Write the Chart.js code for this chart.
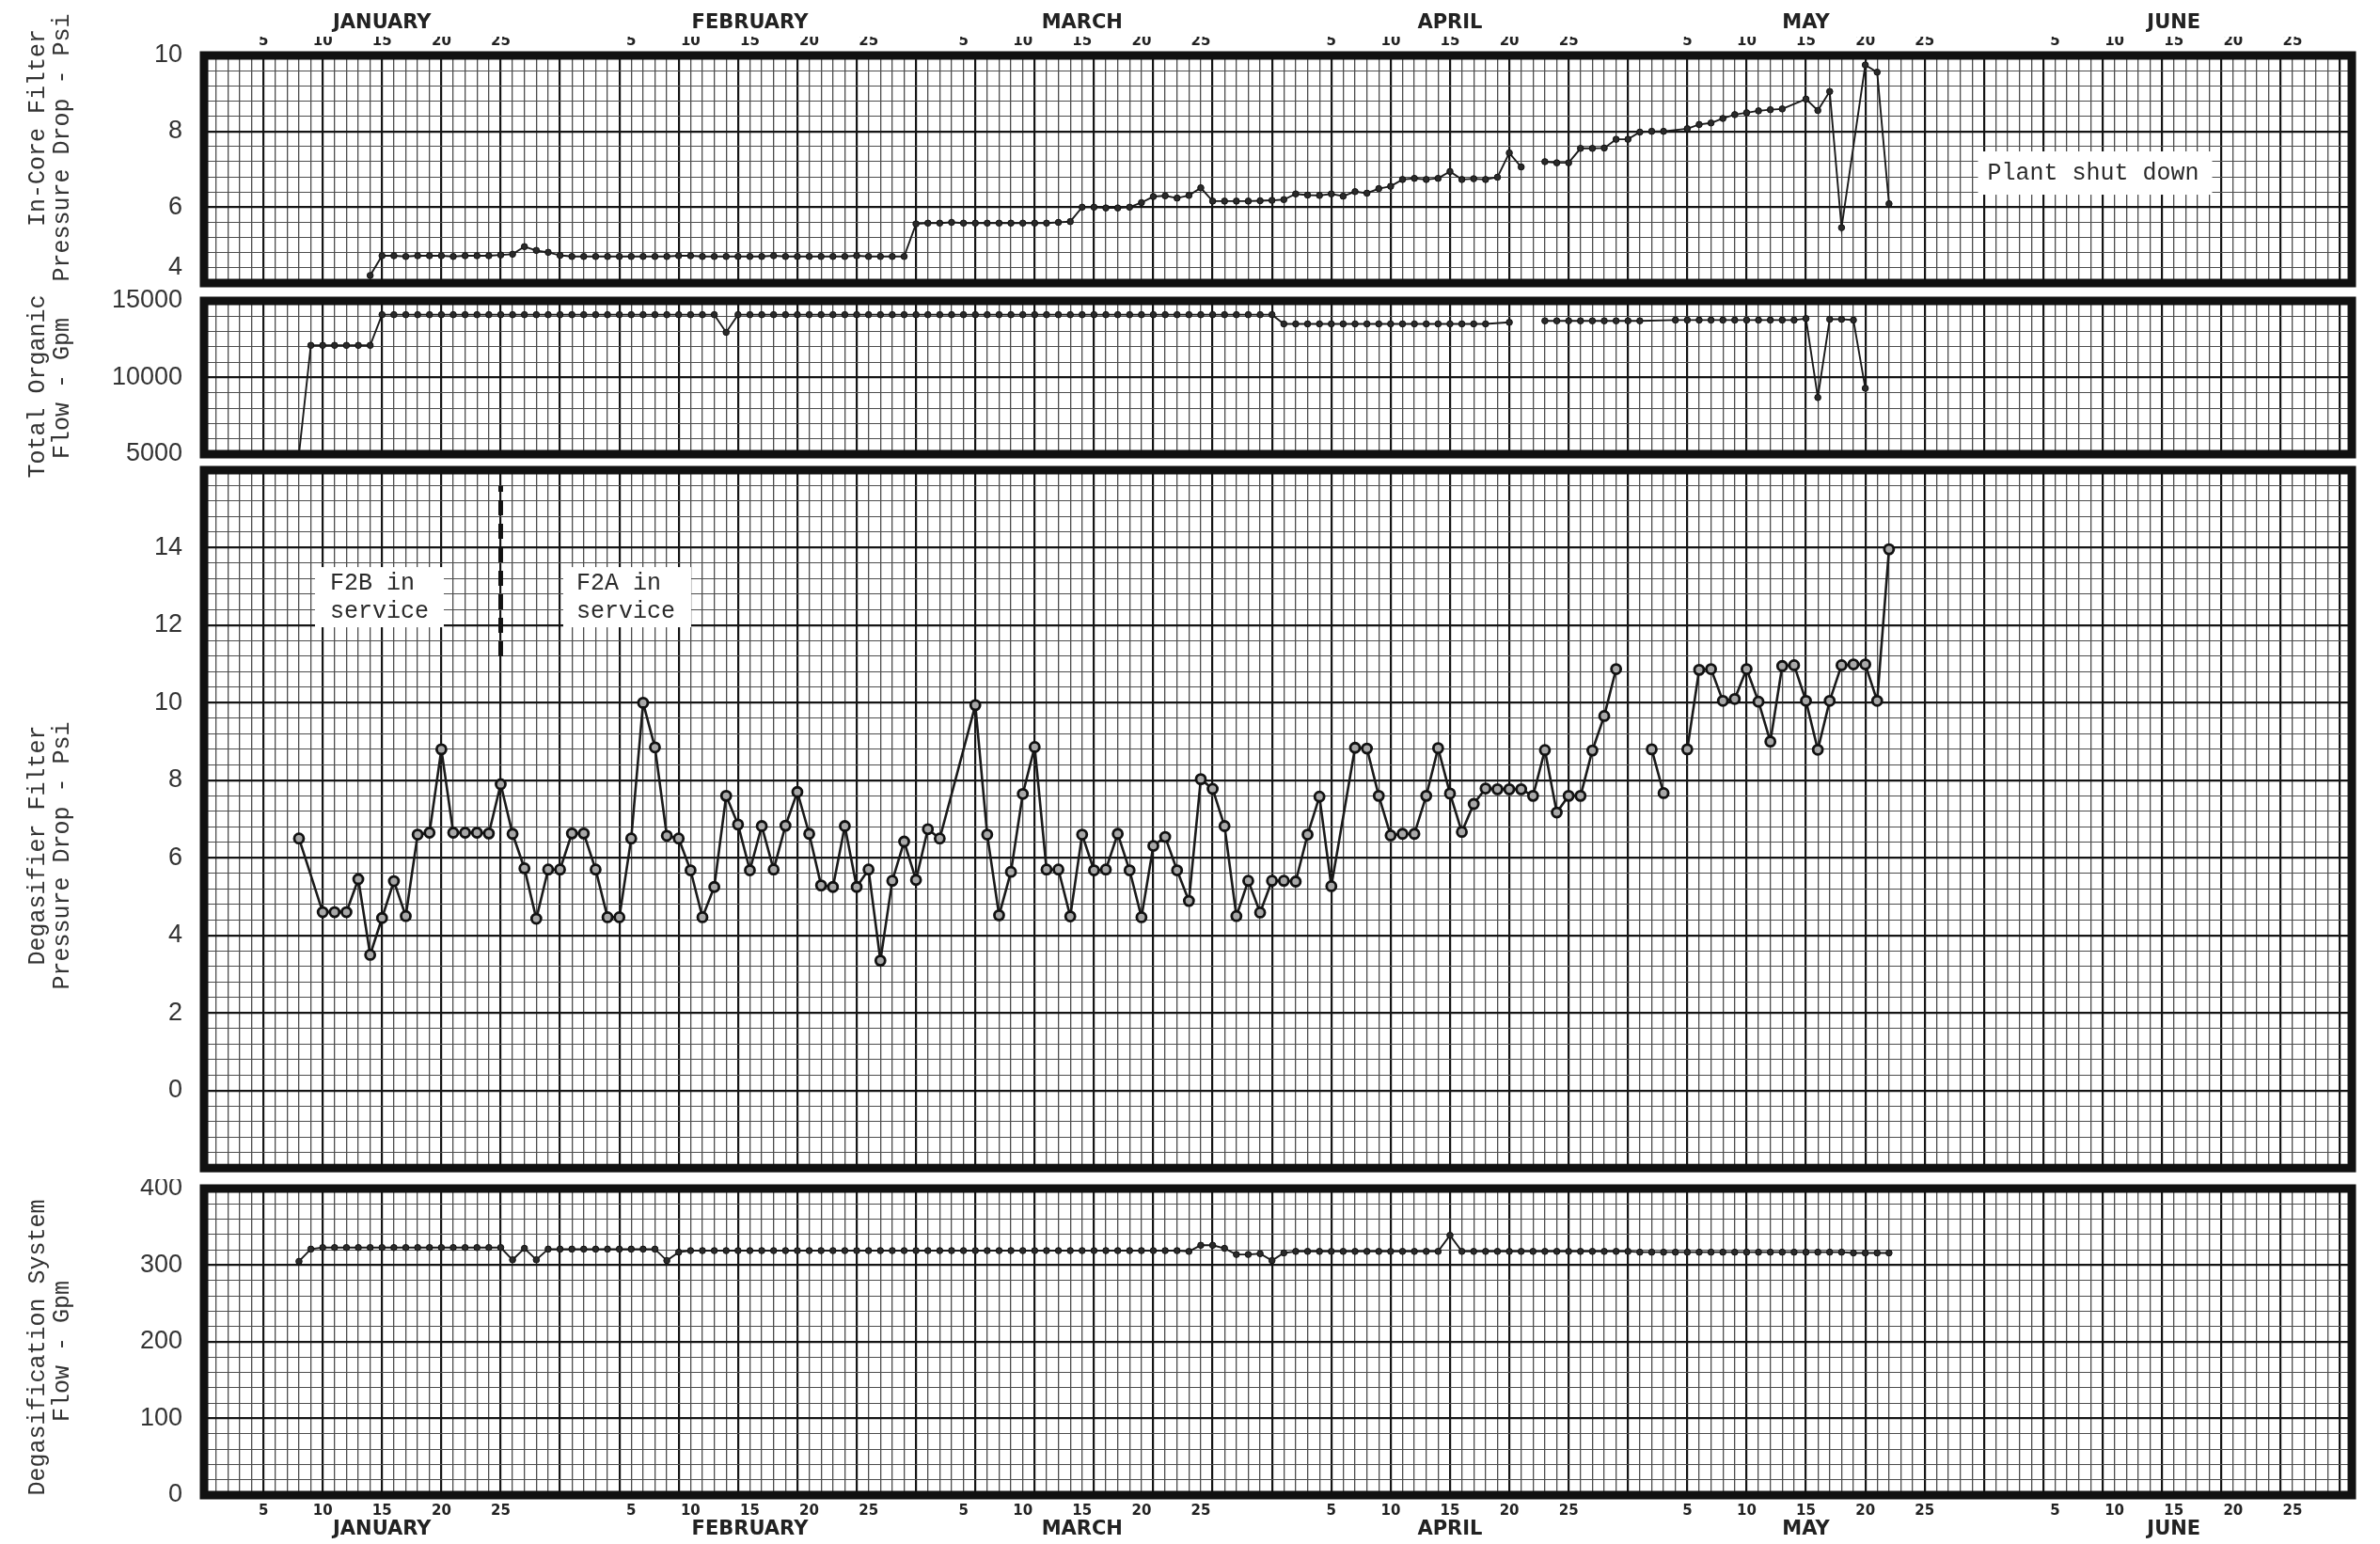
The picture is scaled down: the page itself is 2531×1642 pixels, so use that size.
<!DOCTYPE html>
<html>
<head>
<meta charset="utf-8">
<script src="https://cdn.jsdelivr.net/npm/chart.js@4.4.1/dist/chart.umd.min.js"></script>
<style>
  html, body { margin: 0; padding: 0; background: #fff; }
  #sheet { position: relative; width: 2531px; height: 1642px; overflow: hidden; background: #fff; }
  #sheet canvas { position: absolute; left: 0; }
  .ytitle {
    position: absolute;
    font-family: 'Liberation Mono', 'DejaVu Sans Mono', monospace;
    font-size: 25px;
    color: #333;
    white-space: nowrap;
    transform: translate(-50%, -50%) rotate(-90deg);
  }
</style>
</head>
<body>
<div id="sheet">
  <canvas id="incore" width="2531" height="310" style="top:0px"></canvas>
  <canvas id="organic" width="2531" height="200" style="top:300px"></canvas>
  <canvas id="degasPsi" width="2531" height="760" style="top:490px"></canvas>
  <canvas id="degasFlow" width="2531" height="388" style="top:1254px"></canvas>

  <div class="ytitle" style="left:40px;top:136px">In-Core Filter</div>
  <div class="ytitle" style="left:66px;top:157px">Pressure Drop - Psi</div>
  <div class="ytitle" style="left:40px;top:411px">Total Organic</div>
  <div class="ytitle" style="left:66px;top:413px">Flow - Gpm</div>
  <div class="ytitle" style="left:40px;top:899px">Degasifier Filter</div>
  <div class="ytitle" style="left:66px;top:910px">Pressure Drop - Psi</div>
  <div class="ytitle" style="left:40px;top:1433px">Degasification System</div>
  <div class="ytitle" style="left:66px;top:1437px">Flow - Gpm</div>
</div>
<script>
// calendar: day 1 = Jan 1, axis runs Jan 1 .. Jun 30
const monthNames = ['JANUARY', 'FEBRUARY', 'MARCH', 'APRIL', 'MAY', 'JUNE'];
const monthLengths = [31, 28, 31, 30, 31, 30];
const dayTicks = [5, 10, 15, 20, 25];
const firstDay = 0;
const lastDay = 181;

// In-core filter pressure drop (psi), one value a day from Jan 14
const incoreStart = 14;
const incorePsi = [
  4.2, 4.72, 4.72, 4.70, 4.72, 4.72, 4.72, 4.70, 4.72, 4.72, 4.72, 4.74, 4.76, 4.96, 4.86, 4.81, 4.73, 4.70,
  4.70, 4.70, 4.70, 4.70, 4.70, 4.70, 4.70, 4.70, 4.72, 4.72, 4.70, 4.70, 4.70, 4.70, 4.70, 4.70, 4.72, 4.70,
  4.70, 4.70, 4.70, 4.70, 4.70, 4.72, 4.70, 4.70, 4.70, 4.70,
  5.56, 5.58, 5.58, 5.60, 5.58, 5.58, 5.58, 5.58, 5.58, 5.58, 5.58, 5.58, 5.60, 5.62, 6.00, 6.00, 5.98, 5.98,
  6.00, 6.12, 6.28, 6.30, 6.24, 6.31, 6.51, 6.16, 6.16, 6.16, 6.16, 6.17, 6.18,
  6.20, 6.35, 6.32, 6.31, 6.35, 6.29, 6.41, 6.37, 6.49, 6.55, 6.73, 6.76, 6.73, 6.76, 6.94, 6.73, 6.75, 6.73,
  6.79, 7.43, 7.06, null, 7.20, 7.17, 7.17, 7.55, 7.55, 7.56, 7.79, 7.79,
  7.98, 8.00, 8.00, null, 8.07, 8.18, 8.22, 8.34, 8.44, 8.49, 8.54, 8.57, 8.59, null, 8.85, 8.55, 9.05, 5.46,
  null, 9.75, 9.56, 6.09
];
const incoreBreaks = [112];
const incoreLabels = [4, 6, 8, 10];

// Total organic flow (gpm), daily from Jan 8
const organicStart = 8;
const organicGpm = [
  5000, 12100, 12100, 12100, 12100, 12100, 12100, 14100, 14100, 14100, 14100, 14100, 14100, 14100, 14100,
  14100, 14100, 14100, 14100, 14100, 14100, 14100, 14100, 14100,
  14100, 14100, 14100, 14100, 14100, 14100, 14100, 14100, 14100, 14100, 14100, 14100, 12950, 14100, 14100,
  14100, 14100, 14100, 14100, 14100, 14100, 14100, 14100, 14100, 14100, 14100, 14100,
  14100, 14100, 14100, 14100, 14100, 14100, 14100, 14100, 14100, 14100, 14100, 14100, 14100, 14100, 14100,
  14100, 14100, 14100, 14100, 14100, 14100, 14100, 14100, 14100, 14100, 14100, 14100, 14100, 14100, 14100, 14100,
  14100, 13500, 13500, 13500, 13500, 13500, 13500, 13500, 13500, 13500, 13500, 13500, 13500, 13500, 13500,
  13500, 13500, 13500, 13500, null, 13600, null, null, 13700, 13700, 13700, 13700, 13700, 13700,
  13700, 13700, 13700, null, null, 13750, 13750, 13750, 13750, 13750, 13750, 13750, 13750, 13750, 13750,
  13750, 13850, 8700, 13800, 13800, 13750, 9300
];
const organicBreaks = [111, 113, 124];
const organicLabels = [5000, 10000, 15000];

// Degasifier filter pressure drop (psi), daily from Jan 8
const degasStart = 8;
const degasPsi = [
  6.5, null, 4.6, 4.6, 4.6, 5.45, 3.5, 4.45, 5.4, 4.5, 6.6, 6.65, 8.8, 6.65, 6.65, 6.65, 6.63, 7.9, 6.62,
  5.73, 4.43, 5.7, 5.7, 6.63,
  6.63, 5.7, 4.47, 4.47, 6.5, 10.0, 8.85, 6.57, 6.5, 5.68, 4.47, 5.25, 7.6, 6.86, 5.68, 6.82, 5.7, 6.83,
  7.7, 6.62, 5.29, 5.25, 6.82, 5.25, 5.7, 3.35, 5.41, 6.42,
  5.43, 6.74, 6.5, null, null, 9.94, 6.6, 4.52, 5.64, 7.65, 8.86, 5.7, 5.7, 4.49, 6.6, 5.68, 5.7, 6.62,
  5.68, 4.47, 6.31, 6.54, 5.68, 4.89, 8.03, 7.78, 6.82, 4.5, 5.41, 4.59, 5.41,
  5.41, 5.39, 6.6, 7.58, 5.27, null, 8.84, 8.82, 7.6, 6.58, 6.62, 6.62, 7.6, 8.83, 7.66, 6.67, 7.39, 7.79,
  7.77, 7.77, 7.77, 7.6, 8.78, 7.17, 7.6, 7.6, 8.77, 9.66, 10.87, null,
  null, 8.8, 7.67, null, 8.8, 10.85, 10.87, 10.05, 10.1, 10.87, 10.03, 9.0, 10.95, 10.97, 10.05, 8.79,
  10.05, 10.97, 10.99, 10.99, 10.05, 13.96
];
const degasBreaks = [120, 124];
const degasLabels = [0, 2, 4, 6, 8, 10, 12, 14];

// Degasification system flow (gpm), daily from Jan 8
const flowStart = 8;
const flowGpm = [
  305, 321, 323, 323, 323, 323, 323, 323, 323, 323, 323, 323, 323, 323, 323, 323, 323, 323, 307, 322, 307,
  321, 321, 321,
  321, 321, 321, 321, 321, 321, 321, 306, 317, 319, 319, 319, 319, 319, 319, 319, 319, 319, 319, 319, 319,
  319, 319, 319, 319, 319, 319, 319,
  319, 319, 319, 319, 319, 319, 319, 319, 319, 319, 319, 319, 319, 319, 319, 319, 319, 319, 319, 319, 319,
  319, 319, 318, 326, 326, 322, 314, 314, 315, 306,
  316, 318, 318, 318, 318, 318, 318, 318, 318, 318, 318, 318, 318, 318, 339, 318, 318, 318, 318, 318, 318,
  318, 318, 318, 318, 318, 318, 318, 318, 318,
  317, 317, 317, 317, 317, 317, 317, 317, 317, 317, 317, 317, 317, 317, 317, 317, 317, 317, 316, 316, 316, 316
];
const flowLabels = [0, 100, 200, 300, 400];

// F2B -> F2A changeover
const switchDay = 25;
const switchRange = [11.2, 15.6];

const ink = '#1a1a1a';
const heavyLine = '#151515';
const lightLine = '#4d4d4d';
const monthStarts = monthLengths.map((len, i) => monthLengths.slice(0, i).reduce((a, b) => a + b, 0));

function isMultiple(v, step) {
  return Math.abs(v / step - Math.round(v / step)) < 1e-6;
}

function dayLabel(v) {
  v = Math.round(v);
  for (let m = 0; m < monthLengths.length; m++) {
    const d = v - monthStarts[m];
    if (d >= 1 && d <= monthLengths[m]) return dayTicks.includes(d) ? String(d) : '';
  }
  return '';
}

function series(start, values, breaks) {
  let pts = [];
  values.forEach((y, i) => {
    let x = start + i;
    if (y !== null) pts.push({ x: x, y: y });
    else if (breaks.includes(x)) pts.push({ x: x, y: null });
  });
  return pts;
}

// fixed box sizes so the four panels line up; drop the label overhang padding
function fixHeight(h) {
  return s => { s.height = h; s.paddingLeft = 0; s.paddingRight = 0; };
}

function dayAxis(position, showLabels, height, padding) {
  return {
    type: 'linear',
    position: position,
    min: firstDay,
    max: lastDay,
    afterFit: fixHeight(height),
    border: { display: false },
    grid: {
      drawTicks: false,
      color: c => isMultiple(c.tick.value, 5) ? heavyLine : lightLine,
      lineWidth: c => isMultiple(c.tick.value, 5) ? 2.2 : 1.3
    },
    ticks: {
      display: showLabels,
      stepSize: 1,
      autoSkip: false,
      maxRotation: 0,
      minRotation: 0,
      padding: padding,
      color: '#222',
      font: { family: "'DejaVu Sans', 'Liberation Sans', sans-serif", weight: 'bold', size: 15 },
      callback: v => dayLabel(v)
    }
  };
}

function monthAxis(position, height, padding) {
  return {
    type: 'linear',
    position: position,
    weight: 1,
    min: firstDay,
    max: lastDay,
    afterFit: fixHeight(height),
    afterBuildTicks: s => { s.ticks = monthStarts.map(m => ({ value: m + 15 })); },
    border: { display: false },
    grid: { display: false, drawTicks: false },
    ticks: {
      autoSkip: false,
      maxRotation: 0,
      minRotation: 0,
      padding: padding,
      color: '#222',
      font: { family: "'DejaVu Sans', 'Liberation Sans', sans-serif", weight: 'bold', size: 21 },
      callback: (v, i) => monthNames[i]
    }
  };
}

// raiseMin: lift the bottom-edge label clear of the frame, as on the original sheet
function valueAxis(min, max, step, heavyEvery, labels, raiseMin) {
  return {
    type: 'linear',
    min: min,
    max: max,
    afterFit: s => { s.width = 217; s.paddingTop = 0; s.paddingBottom = 0; },
    border: { display: false },
    grid: {
      drawTicks: false,
      color: c => isMultiple(c.tick.value, heavyEvery) ? heavyLine : lightLine,
      lineWidth: c => isMultiple(c.tick.value, heavyEvery) ? 2.2 : 1.1
    },
    ticks: {
      stepSize: step,
      autoSkip: false,
      padding: 23,
      color: '#333',
      font: { family: "'Liberation Sans', sans-serif", size: 27 },
      callback: v => {
        let hit = labels.find(l => Math.abs(l - v) < 1e-6);
        if (hit === undefined) return '';
        if (raiseMin && hit === min) return [String(hit), ''];
        return String(hit);
      }
    }
  };
}

function smallMarks(data) {
  return {
    data: data,
    borderColor: ink,
    borderWidth: 1.9,
    pointRadius: 3.3,
    pointBackgroundColor: '#2a2a2a',
    pointBorderColor: '#111',
    pointBorderWidth: 1,
    tension: 0,
    spanGaps: false
  };
}

const framePlugin = {
  id: 'frame',
  afterDraw(chart) {
    let { ctx, chartArea: a } = chart;
    ctx.save();
    ctx.strokeStyle = '#111';
    ctx.lineWidth = 9;
    ctx.strokeRect(a.left, a.top, a.right - a.left, a.bottom - a.top);
    ctx.restore();
  }
};

const notesPlugin = {
  id: 'notes',
  beforeDatasetsDraw(chart, args, opts) {
    let { ctx, scales } = chart;
    (opts.boxes || []).forEach(b => {
      let x = scales.x.getPixelForValue(b.day);
      let y = scales.y.getPixelForValue(b.value);
      ctx.save();
      ctx.fillStyle = '#fff';
      ctx.fillRect(x, y, b.w, b.h);
      ctx.fillStyle = '#2a2a2a';
      ctx.font = "25px 'Liberation Mono', 'DejaVu Sans Mono', monospace";
      ctx.textAlign = 'left';
      ctx.textBaseline = 'middle';
      b.lines.forEach((t, k) => ctx.fillText(t, x + b.padX, y + b.padY + k * 30));
      ctx.restore();
    });
  }
};

function baseOptions(padding, scales, boxes) {
  return {
    responsive: false,
    animation: false,
    devicePixelRatio: 1,
    events: [],
    layout: { padding: padding },
    scales: scales,
    plugins: {
      legend: { display: false },
      tooltip: { enabled: false },
      notes: { boxes: boxes || [] }
    }
  };
}

new Chart(document.getElementById('incore'), {
  type: 'line',
  data: { datasets: [smallMarks(series(incoreStart, incorePsi, incoreBreaks))] },
  options: baseOptions(
    { top: 0, bottom: 9, left: 0, right: 30 },
    {
      x: dayAxis('top', true, 20, 6),
      xm: monthAxis('top', 39, 2),
      y: valueAxis(4, 10, 0.4, 2, incoreLabels, true)
    },
    [{ day: 149.5, value: 7.47, w: 249, h: 46, padX: 10, padY: 23, lines: ['Plant shut down'] }]
  ),
  plugins: [notesPlugin, framePlugin]
});

new Chart(document.getElementById('organic'), {
  type: 'line',
  data: { datasets: [smallMarks(series(organicStart, organicGpm, organicBreaks))] },
  options: baseOptions(
    { top: 20, bottom: 17, left: 0, right: 30 },
    {
      x: dayAxis('bottom', false, 0, 0),
      y: valueAxis(5000, 15000, 1000, 5000, organicLabels, false)
    }
  ),
  plugins: [notesPlugin, framePlugin]
});

new Chart(document.getElementById('degasPsi'), {
  type: 'line',
  data: {
    datasets: [
      {
        data: series(degasStart, degasPsi, degasBreaks),
        borderColor: ink,
        borderWidth: 2.6,
        pointRadius: 5,
        pointBackgroundColor: '#a8a8a8',
        pointBorderColor: '#111',
        pointBorderWidth: 2.8,
        tension: 0,
        spanGaps: false
      },
      {
        data: switchRange.map(v => ({ x: switchDay, y: v })),
        borderColor: '#111',
        borderWidth: 5,
        borderDash: [16, 9],
        pointRadius: 0
      }
    ]
  },
  options: baseOptions(
    { top: 10, bottom: 7, left: 0, right: 30 },
    {
      x: dayAxis('bottom', false, 0, 0),
      y: valueAxis(-2, 16, 0.4, 2, degasLabels, false)
    },
    [
      { day: 9.35, value: 13.5, w: 137, h: 64, padX: 16, padY: 17, lines: ['F2B in', 'service'] },
      { day: 30.27, value: 13.5, w: 136, h: 64, padX: 14, padY: 17, lines: ['F2A in', 'service'] }
    ]
  ),
  plugins: [notesPlugin, framePlugin]
});

new Chart(document.getElementById('degasFlow'), {
  type: 'line',
  data: { datasets: [smallMarks(series(flowStart, flowGpm, []))] },
  options: baseOptions(
    { top: 10, bottom: 0, left: 0, right: 30 },
    {
      x: dayAxis('bottom', true, 24, 8),
      xm: monthAxis('bottom', 28, 0),
      y: valueAxis(0, 400, 20, 100, flowLabels, false)
    }
  ),
  plugins: [notesPlugin, framePlugin]
});
</script>
</body>
</html>
